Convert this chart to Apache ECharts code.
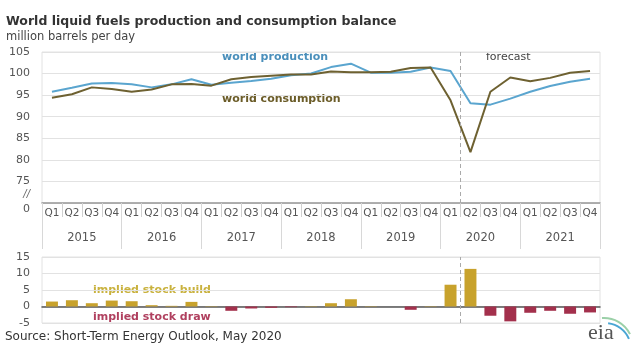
<!DOCTYPE html>
<html>
<head>
<meta charset="utf-8">
<script src="https://cdn.jsdelivr.net/npm/echarts@6/dist/echarts.min.js"></script>
<style>html,body{margin:0;padding:0;background:#fff}#c{width:640px;height:360px}</style>
</head>
<body>
<div id="c"></div>
<script>
var years = ['2015','2016','2017','2018','2019','2020','2021'];
var quarters = ['Q1','Q2','Q3','Q4'];
var categories = [];
years.forEach(function(y){ quarters.forEach(function(q){ categories.push(y + ' ' + q); }); });

var production = [95.8, 96.7, 97.7, 97.8, 97.5, 96.8, 97.5, 98.7, 97.4, 97.9, 98.3, 98.8, 99.6, 100.0, 101.5, 102.3, 100.2, 100.2, 100.4, 101.4, 100.6, 93.1, 92.8, 94.2, 95.8, 97.1, 98.1, 98.8];
var consumption = [94.4, 95.2, 96.8, 96.4, 95.8, 96.3, 97.5, 97.6, 97.2, 98.7, 99.2, 99.5, 99.8, 99.8, 100.5, 100.3, 100.3, 100.4, 101.3, 101.4, 93.8, 81.8, 95.8, 99.1, 98.2, 99.0, 100.2, 100.6];
var stockChange = [1.5, 1.9, 1.0, 1.8, 1.6, 0.4, 0.2, 1.4, 0.1, -1.3, -0.6, -0.4, -0.2, 0.1, 1.0, 2.2, 0.1, 0.0, -1.0, 0.1, 6.6, 11.4, -2.8, -4.5, -1.9, -1.3, -2.2, -1.8];
var forecastStart = 21; // boundary index (between 2020 Q1 and Q2)

var FONT = 'DejaVu Sans, Verdana, sans-serif';
var chart = echarts.init(document.getElementById('c'), null, {renderer:'canvas'});

var option = {
  animation: false,
  backgroundColor: '#fff',
  textStyle: {fontFamily: FONT},
  grid: [
    {left: 42, right: 40, top: 52, bottom: 157, show: true, borderColor: '#e2e2e2', borderWidth: 1},
    {left: 42, right: 40, top: 257, bottom: 37, show: true, borderColor: '#e2e2e2', borderWidth: 1}
  ],
  xAxis: [
    {type:'category', gridIndex:0, data: categories, boundaryGap:true,
     axisLine:{lineStyle:{color:'#999', width:1.5}},
     axisTick:{show:true, interval:0, length:14, lineStyle:{color:'#d0d0d0'}},
     axisLabel:{interval:0, margin:5, fontSize:10.5, color:'#555', fontFamily: FONT,
       formatter:function(v){ return v.split(' ')[1]; }}},
    {type:'category', gridIndex:0, data: years, position:'bottom', boundaryGap:true,
     axisLine:{show:false},
     axisTick:{show:true, interval:0, length:46, lineStyle:{color:'#d8d8d8'}},
     axisLabel:{interval:0, margin:29, fontSize:11.5, color:'#555', fontFamily: FONT}},
    {type:'value', gridIndex:0, min:0, max:28, show:false},
    {type:'category', gridIndex:1, data: categories, boundaryGap:true,
     axisLine:{onZero:true, lineStyle:{color:'#555', width:1.5}},
     axisTick:{show:false}, axisLabel:{show:false}},
    {type:'value', gridIndex:1, min:0, max:28, show:false}
  ],
  yAxis: [
    {type:'value', gridIndex:0, min:70, max:105, interval:5,
     axisLine:{show:false}, axisTick:{show:false},
     splitLine:{lineStyle:{color:'#e2e2e2'}},
     axisLabel:{margin:12, fontSize:11, color:'#555', fontFamily: FONT,
       formatter:function(v){ return v === 70 ? '{brk|//}\n{z|0}' : String(v); },
       rich:{brk:{fontSize:10, fontStyle:'italic', color:'#666', lineHeight:12, fontFamily: FONT},
             z:{fontSize:11, color:'#555', lineHeight:17, fontFamily: FONT}}}},
    {type:'value', gridIndex:1, min:-5, max:15, interval:5,
     axisLine:{show:false}, axisTick:{show:false},
     splitLine:{lineStyle:{color:'#e2e2e2'}},
     axisLabel:{margin:12, fontSize:11, color:'#555', fontFamily: FONT}}
  ],
  series: [
    {name:'world production', type:'line', xAxisIndex:0, yAxisIndex:0, data: production,
     symbol:'none', smooth:false, lineStyle:{color:'#5aa5cf', width:2}, z:3},
    {name:'world consumption', type:'line', xAxisIndex:0, yAxisIndex:0, data: consumption,
     symbol:'none', smooth:false, lineStyle:{color:'#6e6131', width:2}, z:4},
    {type:'line', xAxisIndex:2, yAxisIndex:0, data:[], symbol:'none',
     markLine:{silent:true, symbol:'none', label:{show:false},
       lineStyle:{type:[4,3], color:'#aaa', width:1}, data:[{xAxis: forecastStart}]}},
    {name:'stock change', type:'bar', xAxisIndex:3, yAxisIndex:1, data: stockChange, barWidth:'60%',
     itemStyle:{color:function(p){ return p.value >= 0 ? '#c8a22c' : '#a3304c'; }}, z:3},
    {type:'line', xAxisIndex:4, yAxisIndex:1, data:[], symbol:'none',
     markLine:{silent:true, symbol:'none', label:{show:false},
       lineStyle:{type:[4,3], color:'#aaa', width:1}, data:[{xAxis: forecastStart}]}}
  ],
  graphic: [
    {type:'text', left:6, top:15, style:{text:'World liquid fuels production and consumption balance', font:'bold 12.5px ' + FONT, fill:'#333'}},
    {type:'text', left:6, top:31, style:{text:'million barrels per day', font:'11.5px ' + FONT, fill:'#444'}},
    {type:'text', left:222, top:52, style:{text:'world production', font:'bold 11px ' + FONT, fill:'#4a8fbb'}},
    {type:'text', left:222, top:94, style:{text:'world consumption', font:'bold 11px ' + FONT, fill:'#6b5c28'}},
    {type:'text', left:486, top:52, style:{text:'forecast', font:'11px ' + FONT, fill:'#444'}},
    {type:'text', left:93, top:285, style:{text:'implied stock build', font:'bold 11px ' + FONT, fill:'#c9b23e'}},
    {type:'text', left:93, top:312, style:{text:'implied stock draw', font:'bold 11px ' + FONT, fill:'#b0405f'}},
    {type:'text', left:5, top:331, style:{text:'Source: Short-Term Energy Outlook, May 2020', font:'12px ' + FONT, fill:'#333'}},
    {type:'text', left:588, top:322, style:{text:'eia', font:'22px Liberation Serif, DejaVu Serif, serif', fill:'#555'}},
    {type:'arc', shape:{cx:604, cy:347, r:29, startAngle:-1.64, endAngle:-0.46}, style:{stroke:'#9bd0a8', lineWidth:2, fill:null}},
    {type:'arc', shape:{cx:605, cy:349, r:26, startAngle:-1.45, endAngle:-0.40}, style:{stroke:'#4aa6d4', lineWidth:2, fill:null}}
  ]
};
chart.setOption(option);
</script>
</body>
</html>
